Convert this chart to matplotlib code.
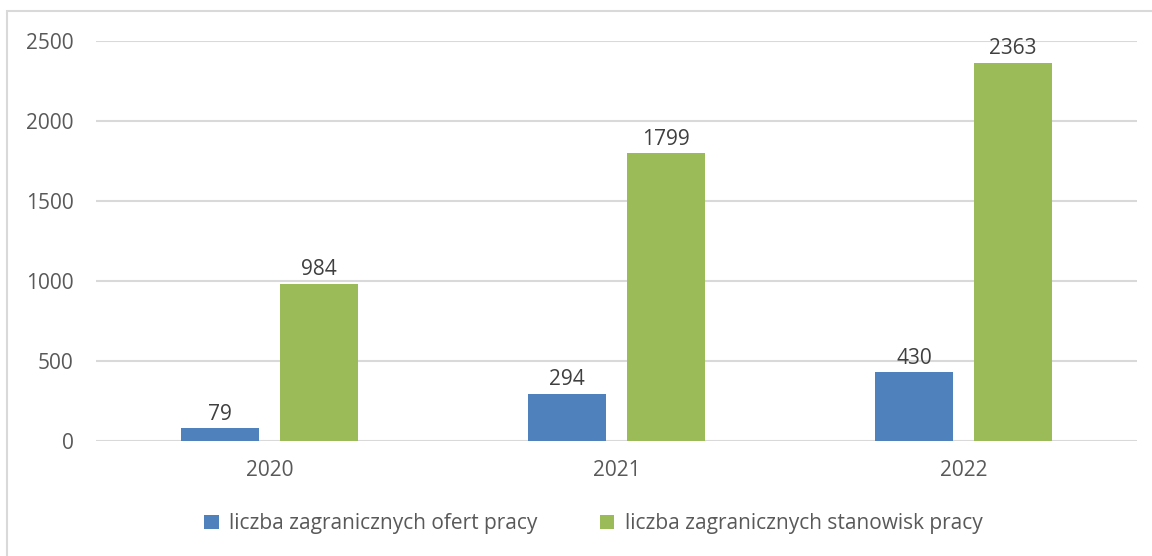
import matplotlib

matplotlib.use("Agg")
import matplotlib.pyplot as plt  # noqa: E402
import numpy as np  # noqa: E402
from matplotlib.patches import Rectangle  # noqa: E402

years = ["2020", "2021", "2022"]
offers = [79, 294, 430]
positions = [984, 1799, 2363]
labels = ["liczba zagranicznych ofert pracy", "liczba zagranicznych stanowisk pracy"]
yticks = [0, 500, 1000, 1500, 2000, 2500]

plt.rcParams["font.family"] = ["Open Sans", "DejaVu Sans"]
FS = 15

fig = plt.figure(figsize=(11.52, 5.56), dpi=100)
ax = fig.add_axes([0.0833, 0.2068, 0.9037, 0.7195])

# chart frame like the Excel export
fig.patches.append(Rectangle((7 / 1152, -0.1), 1.2, 1 - 11 / 556 + 0.1,
                             transform=fig.transFigure, fill=False,
                             edgecolor="#d9d9d9", linewidth=1.5))

x = np.arange(len(years))
w = 0.225
off = 0.143
b1 = ax.bar(x - off, offers, w, color="#4f81bd", label=labels[0], zorder=3)
b2 = ax.bar(x + off, positions, w, color="#9bbb59", label=labels[1], zorder=3)

for bars, vals in ((b1, offers), (b2, positions)):
    for r, v in zip(bars, vals):
        ax.text(r.get_x() + r.get_width() / 2, v + 22, str(v), ha="center",
                va="bottom", fontsize=FS, color="#404040")

ax.set_xlim(-0.5, 2.5)
ax.set_ylim(0, 2500)
ax.set_yticks(yticks)
ax.set_xticks(x)
ax.set_xticklabels(years)
ax.tick_params(axis="both", length=0, labelsize=FS, labelcolor="#595959")
ax.tick_params(axis="y", pad=16)
ax.tick_params(axis="x", pad=14)
ax.grid(axis="y", color="#d9d9d9", linewidth=1.5, zorder=0)
for s in ax.spines.values():
    s.set_visible(False)

fig.legend(loc="center", bbox_to_anchor=(0.515, 0.058), ncol=2, frameon=False,
           fontsize=FS, labelcolor="#595959", handlelength=0.7, handleheight=0.7,
           handletextpad=0.5, columnspacing=3.0)

fig.savefig("out.png", dpi=100)
